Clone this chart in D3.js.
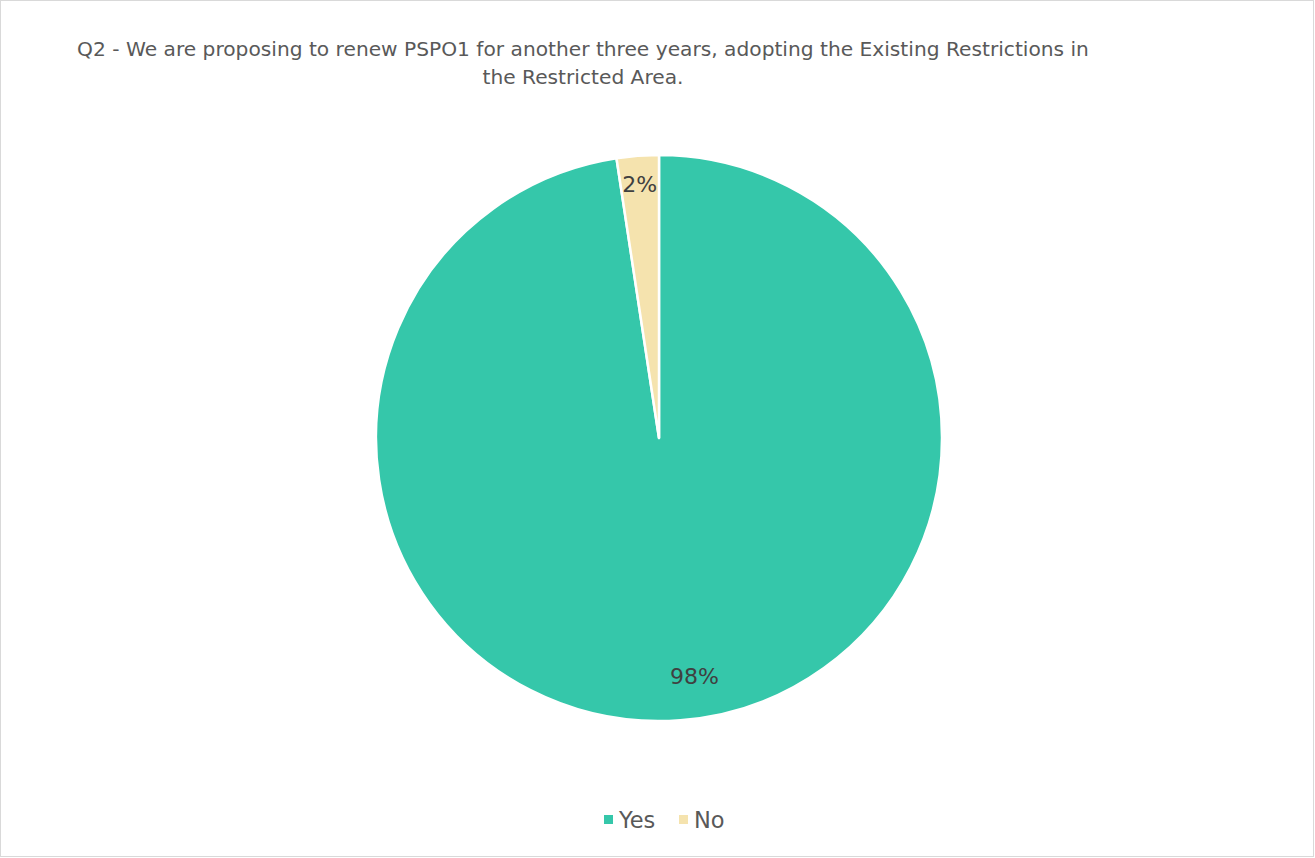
<!DOCTYPE html>
<html>
<head>
<meta charset="utf-8">
<script src="https://cdn.jsdelivr.net/npm/d3@7"></script>
<style>
  body { margin: 0; background: #fff; }
  svg { font-family: "Century Gothic", "DejaVu Sans", sans-serif; }
</style>
</head>
<body>
<svg id="chart" width="1315" height="858"></svg>
<script>
// survey answers for Q2
const categories = ['Yes', 'No'];
const shares = [97.6, 2.4];
const labels = ['98%', '2%'];
const colours = ['#35C7AA', '#F5E3AE'];

const svg = d3.select('#chart');

// chart frame
svg.append('rect')
  .attr('x', 0.5).attr('y', 0.5)
  .attr('width', 1313).attr('height', 856)
  .attr('fill', '#fff')
  .attr('stroke', '#d9d9d9');

// title, two lines
const title = svg.append('text')
  .attr('text-anchor', 'middle')
  .attr('fill', '#595959')
  .style('font-size', '20.2px');
title.append('tspan').attr('x', 583).attr('y', 56)
  .text('Q2 - We are proposing to renew PSPO1 for another three years, adopting the Existing Restrictions in');
title.append('tspan').attr('x', 583).attr('y', 84)
  .text('the Restricted Area.');

const cx = 659, cy = 438, r = 283;

const pie = d3.pie().sort(null).value(d => d);
const arcs = pie(shares);
const arc = d3.arc().innerRadius(0).outerRadius(r);

const g = svg.append('g').attr('transform', `translate(${cx},${cy})`);

g.selectAll('path')
  .data(arcs)
  .enter().append('path')
  .attr('d', arc)
  .attr('fill', (d, i) => colours[i])
  .attr('stroke', '#fff')
  .attr('stroke-width', 2.5)
  .attr('stroke-linejoin', 'round');

// data labels near the outer edge, like Excel "inside end"
const labelRadius = [0.85, 0.9];
const labelShift = [-0.073, 0]; // radians, Excel nudges the big label a little
g.selectAll('text.lbl')
  .data(arcs)
  .enter().append('text')
  .attr('class', 'lbl')
  .attr('transform', (d, i) => {
    const a = (d.startAngle + d.endAngle) / 2 + labelShift[i];
    const rr = r * labelRadius[i];
    return 'translate(' + (Math.sin(a) * rr) + ',' + (-Math.cos(a) * rr) + ')';
  })
  .attr('text-anchor', 'middle')
  .attr('dy', '0.35em')
  .attr('fill', '#404040')
  .style('font-size', '22px')
  .text((d, i) => labels[i]);

// legend
const legendX = [604, 679];
const legend = svg.selectAll('g.legend')
  .data(categories)
  .enter().append('g')
  .attr('class', 'legend')
  .attr('transform', (d, i) => `translate(${legendX[i]},820)`);

legend.append('rect')
  .attr('x', 0).attr('y', -5)
  .attr('width', 9).attr('height', 9)
  .attr('fill', (d, i) => colours[i]);

legend.append('text')
  .attr('x', 15).attr('y', 8)
  .attr('fill', '#595959')
  .style('font-size', '22.5px')
  .text(d => d);
</script>
</body>
</html>
